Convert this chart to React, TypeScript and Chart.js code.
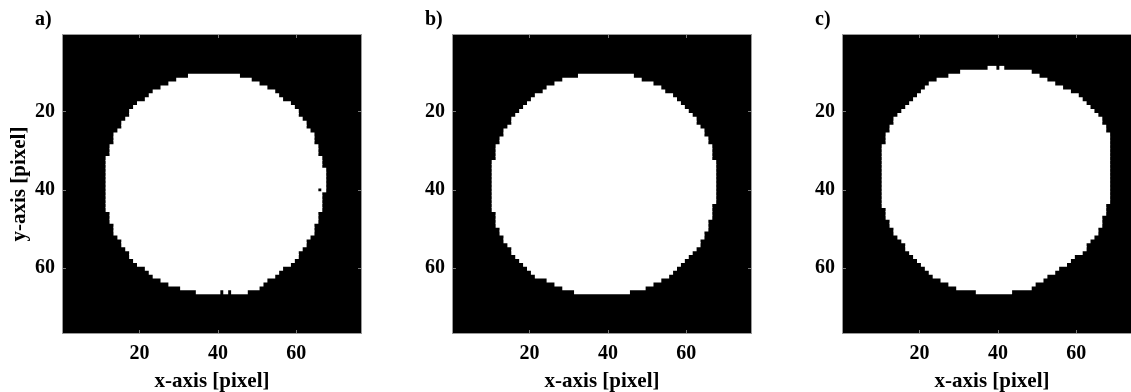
import React, { useEffect, useRef } from 'react';
import { Chart, registerables } from 'chart.js';

Chart.register(...registerables);

const panelLabels = ['a)', 'b)', 'c)'];
const tickValues = [20, 40, 60];
const xTitle = 'x-axis [pixel]';
const yTitle = 'y-axis [pixel]';
const axisMin = 0.5;
const axisMax = 76.5;

// Each entry is one white run of image pixels: row, first column, last column
// Panel a
const aRow = [11, 12, 13, 14, 15, 16, 17, 18, 19, 20, 21, 22, 23, 24, 25, 26, 27, 28, 29, 30, 31, 32, 33, 34, 35, 36, 37, 38, 39, 40, 40, 41, 42, 43, 44, 45, 46, 47, 48, 49, 50, 51, 52, 53, 54, 55, 56, 57, 58, 59, 60, 61, 62, 63, 64, 65, 66, 66, 66];
const aStart = [33, 30, 28, 26, 24, 23, 22, 20, 19, 18, 18, 17, 16, 16, 15, 14, 14, 14, 13, 13, 13, 12, 12, 12, 12, 12, 12, 12, 12, 12, 67, 12, 12, 12, 12, 12, 13, 13, 13, 14, 14, 14, 15, 16, 16, 17, 18, 18, 19, 20, 22, 23, 24, 26, 28, 31, 35, 42, 44];
const aEnd = [45, 48, 50, 52, 54, 55, 56, 58, 59, 60, 60, 61, 62, 62, 63, 64, 64, 64, 65, 65, 65, 66, 66, 66, 67, 67, 67, 67, 67, 65, 67, 66, 66, 66, 66, 66, 65, 65, 65, 64, 64, 64, 63, 62, 62, 61, 60, 60, 59, 58, 56, 55, 54, 52, 51, 50, 40, 42, 47];

// Panel b
const bRow = [11, 12, 13, 14, 15, 16, 17, 18, 19, 20, 21, 22, 23, 24, 25, 26, 27, 28, 29, 30, 31, 32, 33, 34, 35, 36, 37, 38, 39, 40, 41, 42, 43, 44, 45, 46, 47, 48, 49, 50, 51, 52, 53, 54, 55, 56, 57, 58, 59, 60, 61, 62, 63, 64, 65, 66];
const bStart = [33, 29, 27, 25, 24, 22, 21, 20, 19, 18, 17, 16, 16, 15, 14, 14, 13, 13, 12, 12, 12, 12, 11, 11, 11, 11, 11, 11, 11, 11, 11, 11, 11, 11, 11, 12, 12, 12, 12, 13, 13, 14, 14, 15, 16, 16, 17, 18, 19, 20, 21, 22, 25, 27, 29, 32];
const bEnd = [46, 48, 51, 53, 54, 56, 57, 58, 59, 60, 61, 62, 62, 63, 64, 64, 65, 65, 66, 66, 66, 66, 67, 67, 67, 67, 67, 67, 67, 67, 67, 67, 67, 66, 66, 66, 66, 65, 65, 65, 64, 64, 63, 63, 62, 61, 60, 59, 58, 57, 56, 55, 53, 51, 49, 45];

// Panel c
const cRow = [9, 9, 10, 11, 12, 13, 14, 15, 16, 17, 18, 19, 20, 21, 22, 23, 24, 25, 26, 27, 28, 29, 30, 31, 32, 33, 34, 35, 36, 37, 38, 39, 40, 41, 42, 43, 44, 45, 46, 47, 48, 49, 50, 51, 52, 53, 54, 55, 56, 57, 58, 59, 60, 61, 62, 63, 64, 65, 66];
const cStart = [38, 41, 31, 28, 25, 23, 22, 21, 20, 19, 18, 17, 16, 15, 14, 14, 13, 13, 12, 12, 12, 11, 11, 11, 11, 11, 11, 11, 11, 11, 11, 11, 11, 11, 11, 11, 11, 12, 12, 12, 13, 13, 14, 14, 15, 16, 17, 17, 18, 19, 20, 21, 22, 23, 24, 26, 28, 30, 35];
const cEnd = [39, 41, 48, 50, 52, 54, 56, 58, 60, 61, 62, 63, 64, 65, 66, 66, 67, 67, 68, 68, 68, 68, 68, 68, 68, 68, 68, 68, 68, 68, 68, 68, 68, 68, 68, 68, 67, 67, 67, 66, 66, 66, 65, 65, 64, 63, 62, 62, 61, 59, 58, 57, 55, 54, 52, 51, 49, 48, 43];

const FONT = "'Liberation Serif', 'Times New Roman', serif";

type PanelProps = {
  label: string;
  rows: number[];
  starts: number[];
  ends: number[];
  showYTitle: boolean;
  offsetX: number;
};

function Panel({ label, rows, starts, ends, showYTitle, offsetX }: PanelProps) {
  const ref = useRef<HTMLCanvasElement>(null);

  useEffect(() => {
    if (!ref.current) return;
    const framePlugin = {
      id: 'frame',
      beforeDatasetsDraw(chart: any) {
        const { ctx, chartArea: ca } = chart;
        ctx.save();
        ctx.fillStyle = '#000';
        ctx.fillRect(ca.left, ca.top, ca.right - ca.left, ca.bottom - ca.top);
        ctx.restore();
      },
      afterDraw(chart: any) {
        const { ctx, chartArea: ca, scales } = chart;
        ctx.save();
        ctx.lineWidth = 1;
        ctx.strokeStyle = '#9a9a9a';
        ctx.strokeRect(Math.round(ca.left) - 0.5, Math.round(ca.top) - 0.5, Math.round(ca.right - ca.left) + 1, Math.round(ca.bottom - ca.top) + 1);
        ctx.strokeStyle = '#777';
        const line = (x1: number, y1: number, x2: number, y2: number) => {
          ctx.beginPath();
          ctx.moveTo(x1, y1);
          ctx.lineTo(x2, y2);
          ctx.stroke();
        };
        tickValues.forEach((v) => {
          const x = Math.round(scales.x.getPixelForValue(v)) + 0.5;
          line(x, ca.bottom, x, ca.bottom - 3);
          line(x, ca.top, x, ca.top + 3);
          const y = Math.round(scales.y.getPixelForValue(v)) + 0.5;
          line(ca.left, y, ca.left + 3, y);
          line(ca.right, y, ca.right - 3, y);
        });
        ctx.fillStyle = '#000';
        ctx.font = `bold 20px ${FONT}`;
        ctx.textAlign = 'left';
        ctx.textBaseline = 'alphabetic';
        ctx.fillText(label, ca.left - 28, 25);
        ctx.restore();
      },
    };

    const data = rows.map((r, i) => ({ x: [starts[i] - 0.5, ends[i] + 0.5], y: r }));
    const tickFont = { family: FONT, size: 20, weight: 'bold' as const };

    const chart = new Chart(ref.current, {
      type: 'bar',
      data: {
        datasets: [
          {
            data: data as any,
            backgroundColor: '#ffffff',
            borderWidth: 0,
            barPercentage: 1,
            categoryPercentage: 1,
            inflateAmount: 0.5,
            grouped: false,
          } as any,
        ],
      },
      options: {
        indexAxis: 'y',
        animation: false,
        responsive: false,
        maintainAspectRatio: false,
        layout: { padding: { top: 35, right: 29, left: 0, bottom: 0 } },
        plugins: { legend: { display: false }, tooltip: { enabled: false } },
        scales: {
          x: {
            type: 'linear',
            min: axisMin,
            max: axisMax,
            offset: false,
            grid: { display: false, drawTicks: false, offset: false },
            border: { display: false },
            afterBuildTicks: (s: any) => {
              s.ticks = tickValues.map((v) => ({ value: v }));
            },
            afterFit: (s: any) => {
              s.height = 67;
            },
            ticks: { font: tickFont, color: '#000', padding: 9, autoSkip: false, maxRotation: 0 },
            title: {
              display: true,
              text: xTitle,
              font: { family: FONT, size: 21, weight: 'bold' },
              color: '#000',
              padding: { top: 0, bottom: 6 },
            },
          },
          y: {
            type: 'linear',
            reverse: true,
            min: axisMin,
            max: axisMax,
            offset: false,
            grid: { display: false, drawTicks: false, offset: false },
            border: { display: false },
            afterBuildTicks: (s: any) => {
              s.ticks = tickValues.map((v) => ({ value: v }));
            },
            afterFit: (s: any) => {
              s.width = 63;
            },
            ticks: { font: tickFont, color: '#000', padding: 8, autoSkip: false },
            title: {
              display: showYTitle,
              text: yTitle,
              font: { family: FONT, size: 21, weight: 'bold' },
              color: '#000',
              padding: { top: 7, bottom: 0 },
            },
          },
        },
      },
      plugins: [framePlugin],
    });
    return () => chart.destroy();
  }, []);

  return (
    <canvas
      ref={ref}
      width={390}
      height={400}
      style={{ position: 'absolute', left: offsetX, top: 0, width: 390, height: 400, display: 'block' }}
    />
  );
}

export default function App() {
  return (
    <div
      style={{
        position: 'absolute',
        left: 0,
        top: 0,
        width: 1131,
        height: 392,
        overflow: 'hidden',
        background: '#fff',
      }}
    >
      <Panel label={panelLabels[0]} rows={aRow} starts={aStart} ends={aEnd} showYTitle={true} offsetX={0} />
      <Panel label={panelLabels[1]} rows={bRow} starts={bStart} ends={bEnd} showYTitle={false} offsetX={390} />
      <Panel label={panelLabels[2]} rows={cRow} starts={cStart} ends={cEnd} showYTitle={false} offsetX={780} />
    </div>
  );
}
